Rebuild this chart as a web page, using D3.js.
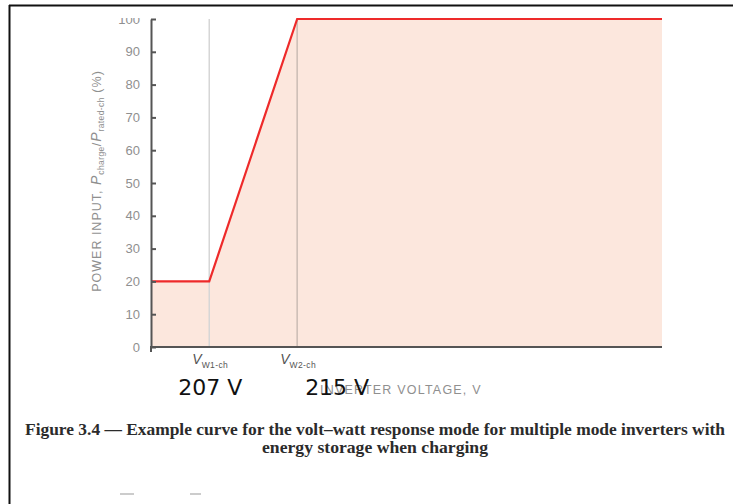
<!DOCTYPE html>
<html><head><meta charset="utf-8">
<script src="https://cdn.jsdelivr.net/npm/d3@7"></script>
<style>body{margin:0;background:#fff}svg{display:block}</style>
</head><body>
<svg id="c" width="733" height="504"></svg>
<script>
// Data
const voltages = [201.7, 207, 215, 248.2];
const powerPct = [20, 20, 100, 100];
const refVoltages = [207, 215];
const refNames = ["W1-ch", "W2-ch"];
const refValueLabels = ["207 V", "215 V"];
const yTicks = [0, 10, 20, 30, 40, 50, 60, 70, 80, 90, 100];
const captionLines = [
  "Figure 3.4 \u2014 Example curve for the volt\u2013watt response mode for multiple mode inverters with",
  "energy storage when charging"
];

const svg = d3.select("#c");
const x = d3.scaleLinear().domain([201.7, 248.2]).range([151, 662]);
const y = d3.scaleLinear().domain([0, 100]).range([347, 19]);
const pts = voltages.map((v, i) => ({v, p: powerPct[i]}));

// frame borders
svg.append("line").attr("x1", 9).attr("x2", 733).attr("y1", 5.5).attr("y2", 5.5).attr("stroke", "#111").attr("stroke-width", 2);
svg.append("line").attr("x1", 9.5).attr("x2", 9.5).attr("y1", 5).attr("y2", 504).attr("stroke", "#111").attr("stroke-width", 2);

// area fill
svg.append("path").datum(pts)
  .attr("d", d3.area().x(d => x(d.v)).y0(y(0)).y1(d => y(d.p)))
  .attr("fill", "#fce7dd");

// reference vertical lines
svg.selectAll(".ref").data(refVoltages).enter().append("line")
  .attr("x1", d => x(d)).attr("x2", d => x(d))
  .attr("y1", y(100)).attr("y2", y(0))
  .attr("stroke", (d, i) => i === 0 ? "#d6d6d6" : "#cbbcb4").attr("stroke-width", 1.5);

// line
svg.append("path").datum(pts)
  .attr("d", d3.line().x(d => x(d.v)).y(d => y(d.p)))
  .attr("fill", "none").attr("stroke", "#ee2a2a").attr("stroke-width", 2.2);

// y axis
const ya = svg.append("g").attr("transform", `translate(${x(201.7)},0)`)
  .call(d3.axisLeft(y).tickValues(yTicks).tickSizeInner(-5).tickSizeOuter(0).tickPadding(11));
ya.select(".domain").attr("stroke", "#555").attr("stroke-width", 2);
ya.selectAll(".tick line").attr("stroke", "#555").attr("stroke-width", 2);
ya.selectAll(".tick text").attr("fill", "#8f8f8f").attr("font-family", "Liberation Sans, Arial, sans-serif").attr("font-size", 13);
// cover top of "100" (cropped in original)
svg.append("rect").attr("x", 110).attr("y", 7).attr("width", 36).attr("height", 11).attr("fill", "#fff");

// x axis line
svg.append("line").attr("x1", x(201.7) - 1).attr("x2", x(248.2)).attr("y1", y(0)).attr("y2", y(0))
  .attr("stroke", "#555").attr("stroke-width", 2);
svg.append("line").attr("x1", x(201.7)).attr("x2", x(201.7)).attr("y1", y(0)).attr("y2", y(0) + 5)
  .attr("stroke", "#555").attr("stroke-width", 2);

// y axis title
const yt = svg.append("text").attr("transform", `translate(101,${181}) rotate(-90)`)
  .attr("text-anchor", "middle").attr("fill", "#8f8f8f")
  .attr("font-family", "Liberation Sans, Arial, sans-serif").attr("font-size", 12.5).attr("letter-spacing", 1);
yt.append("tspan").text("POWER INPUT, ");
yt.append("tspan").attr("font-style", "italic").attr("font-size", 14).text("P");
yt.append("tspan").attr("font-size", 8.5).attr("dy", 3).attr("letter-spacing", 0.4).text("charge");
yt.append("tspan").attr("dy", -3).text("/");
yt.append("tspan").attr("font-style", "italic").attr("font-size", 14).text("P");
yt.append("tspan").attr("font-size", 8.5).attr("dy", 3).attr("letter-spacing", 0.4).text("rated-ch");
yt.append("tspan").attr("dy", -3).text(" (%)");

// x axis title
svg.append("text").attr("x", 320).attr("y", 394).attr("text-anchor", "start")
  .attr("fill", "#8f8f8f").attr("font-family", "Liberation Sans, Arial, sans-serif")
  .attr("font-size", 12.5).attr("letter-spacing", 1.2).text("INVERTER VOLTAGE, V");

// ref labels
const valueOffsets = [1, 40];
refVoltages.forEach((v, i) => {
  const t = svg.append("text").attr("x", x(v) + 1).attr("y", 364).attr("text-anchor", "middle")
    .attr("fill", "#555").attr("font-family", "Liberation Sans, Arial, sans-serif");
  t.append("tspan").attr("font-style", "italic").attr("font-size", 14).text("V");
  t.append("tspan").attr("font-size", 8.5).attr("dy", 4).attr("letter-spacing", 0.4).text(refNames[i]);
  svg.append("text").attr("x", x(v) + valueOffsets[i]).attr("y", 395).attr("text-anchor", "middle")
    .attr("fill", "#111").attr("font-family", "DejaVu Sans, sans-serif").attr("font-size", 22)
    .text(refValueLabels[i]);
});

// caption
const capWidths = [700, 226];
svg.selectAll(".cap").data(captionLines).enter().append("text")
  .attr("x", 375).attr("y", (d, i) => 435 + i * 18).attr("text-anchor", "middle")
  .attr("fill", "#2b2b2b").attr("font-family", "Liberation Serif, serif").attr("font-weight", "bold")
  .attr("font-size", 16).attr("textLength", (d, i) => capWidths[i]).attr("lengthAdjust", "spacingAndGlyphs")
  .text(d => d);

// small gray marks at bottom
[[120, 134], [190, 201]].forEach(([a, b]) => {
  svg.append("line").attr("x1", a).attr("x2", b).attr("y1", 494).attr("y2", 494)
    .attr("stroke", "#bbb").attr("stroke-width", 1.5);
});
</script>
</body></html>
